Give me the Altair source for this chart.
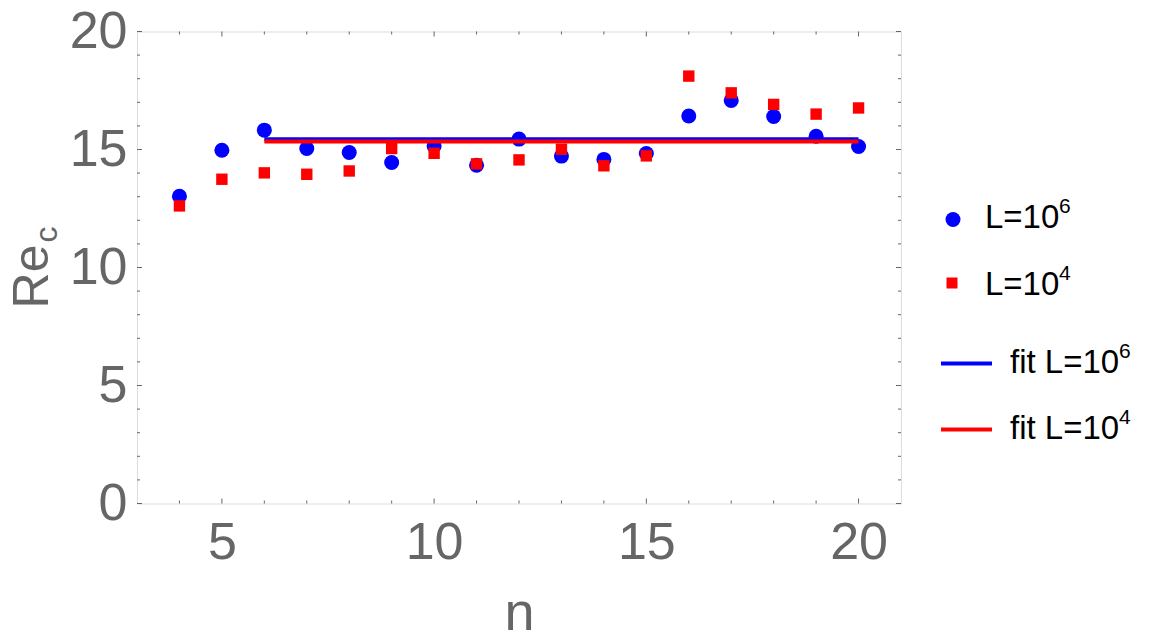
import altair as alt
import pandas as pd

# ---- data ----
n_vals = list(range(4, 21))
re_L6 = [13.02, 14.97, 15.82, 15.04, 14.87, 14.45, 15.15, 14.33, 15.44,
         14.72, 14.58, 14.83, 16.42, 17.08, 16.40, 15.56, 15.13]
re_L4 = [12.61, 13.74, 14.01, 13.95, 14.09, 15.04, 14.84, 14.39, 14.56,
         15.01, 14.31, 14.73, 18.11, 17.40, 16.91, 16.50, 16.76]
fit_n = [6, 20]
fit_L6 = 15.43
fit_L4 = 15.34

x_major = [5, 10, 15, 20]
x_minor = [4, 6, 7, 8, 9, 11, 12, 13, 14, 16, 17, 18, 19]
y_major = [0, 5, 10, 15, 20]
y_minor = [v for v in range(1, 20) if v % 5 != 0]

FONT = "Liberation Sans"
GREY = "#666666"
W, H = 764, 472

xs = alt.Scale(domain=[3, 21], nice=False, zero=False)
ys = alt.Scale(domain=[0, 20], nice=False, zero=False)

X = alt.X("n:Q", scale=xs, axis=alt.Axis(
    values=x_major, ticks=False, tickSize=0, domain=False, grid=False,
    labelFont=FONT, labelFontSize=52, labelColor=GREY, labelPadding=55,
    labelBaseline="alphabetic", labelFlush=False,
    title="n", titleFont=FONT, titleFontSize=54, titleColor=GREY,
    titleFontWeight="normal", titleBaseline="alphabetic", titleY=126, titleX=W / 2))
Y = alt.Y("re:Q", scale=ys, axis=alt.Axis(
    values=y_major, ticks=False, tickSize=0, domain=False, grid=False,
    labelFont=FONT, labelFontSize=52, labelColor=GREY, labelPadding=10,
    labelBaseline="middle", labelFlush=False, title=None))

df6 = pd.DataFrame({"n": n_vals, "re": re_L6})
df4 = pd.DataFrame({"n": n_vals, "re": re_L4})
dfit6 = pd.DataFrame({"n": fit_n, "re": [fit_L6] * len(fit_n)})
dfit4 = pd.DataFrame({"n": fit_n, "re": [fit_L4] * len(fit_n)})

pts6 = alt.Chart(df6).mark_point(shape="circle", filled=True, size=225,
                                 color="#0000ff", opacity=1).encode(x=X, y=Y)
pts4 = alt.Chart(df4).mark_point(shape="square", filled=True, size=130,
                                 color="#ff0000", opacity=1).encode(x=X, y=Y)
line6 = alt.Chart(dfit6).mark_line(color="#0000ff", strokeWidth=4).encode(x=X, y=Y)
line4 = alt.Chart(dfit4).mark_line(color="#ff0000", strokeWidth=4).encode(x=X, y=Y)


def xticks(vals, length):
    d = pd.DataFrame({"n": vals})
    base = alt.Chart(d).mark_rule(color=GREY, strokeWidth=1)
    bot = base.encode(x=alt.X("n:Q", scale=xs), y=alt.value(H), y2=alt.value(H - length))
    top = base.encode(x=alt.X("n:Q", scale=xs), y=alt.value(0), y2=alt.value(length))
    return [bot, top]


def yticks(vals, length):
    d = pd.DataFrame({"re": vals})
    base = alt.Chart(d).mark_rule(color=GREY, strokeWidth=1)
    left = base.encode(y=alt.Y("re:Q", scale=ys), x=alt.value(0), x2=alt.value(length))
    right = base.encode(y=alt.Y("re:Q", scale=ys), x=alt.value(W), x2=alt.value(W - length))
    return [left, right]


one = pd.DataFrame({"a": [0]})


def txt(s, x, y, size, color="black", angle=0, align="left"):
    return alt.Chart(one).mark_text(text=s, font=FONT, fontSize=size, color=color,
                                    align=align, baseline="alphabetic",
                                    angle=angle).encode(x=alt.value(x), y=alt.value(y))


# y-axis title Re_c
title_layers = [
    txt("Re", -89, 245, 50, GREY, angle=270, align="center"),
    txt("c", -80, 203, 32, GREY, angle=270, align="center"),
]

# legend
LX = 848
leg = [
    alt.Chart(one).mark_point(shape="circle", filled=True, size=225, color="#0000ff",
                              opacity=1).encode(x=alt.value(816), y=alt.value(188)),
    txt("L=10", LX, 196.5, 33), txt("6", LX + 74, 181.5, 21),
    alt.Chart(one).mark_point(shape="square", filled=True, size=121, color="#ff0000",
                              opacity=1).encode(x=alt.value(815), y=alt.value(251.5)),
    txt("L=10", LX, 263.5, 33), txt("4", LX + 74, 248.5, 21),
    alt.Chart(one).mark_rule(color="#0000ff", strokeWidth=4).encode(
        x=alt.value(804), x2=alt.value(855), y=alt.value(332)),
    txt("fit L=10", 873, 341.5, 33), txt("6", 873 + 109, 326.5, 21),
    alt.Chart(one).mark_rule(color="#ff0000", strokeWidth=4).encode(
        x=alt.value(804), x2=alt.value(855), y=alt.value(398)),
    txt("fit L=10", 873, 407.5, 33), txt("4", 873 + 109, 392.5, 21),
]

layers = [pts6, pts4, line6, line4]
layers += xticks(x_major, 5) + xticks(x_minor, 3)
layers += yticks(y_major, 5) + yticks(y_minor, 3)
layers += title_layers + leg

chart = alt.layer(*layers).properties(
    width=W, height=H,
    autosize=alt.AutoSizeParams(type="none"),
    padding={"left": 129, "top": 23.5, "right": 240, "bottom": 140},
).configure_view(stroke=GREY, strokeWidth=1.3).configure(background="white")

chart.save("out.html", embed_options={"renderer": "svg", "actions": False})
